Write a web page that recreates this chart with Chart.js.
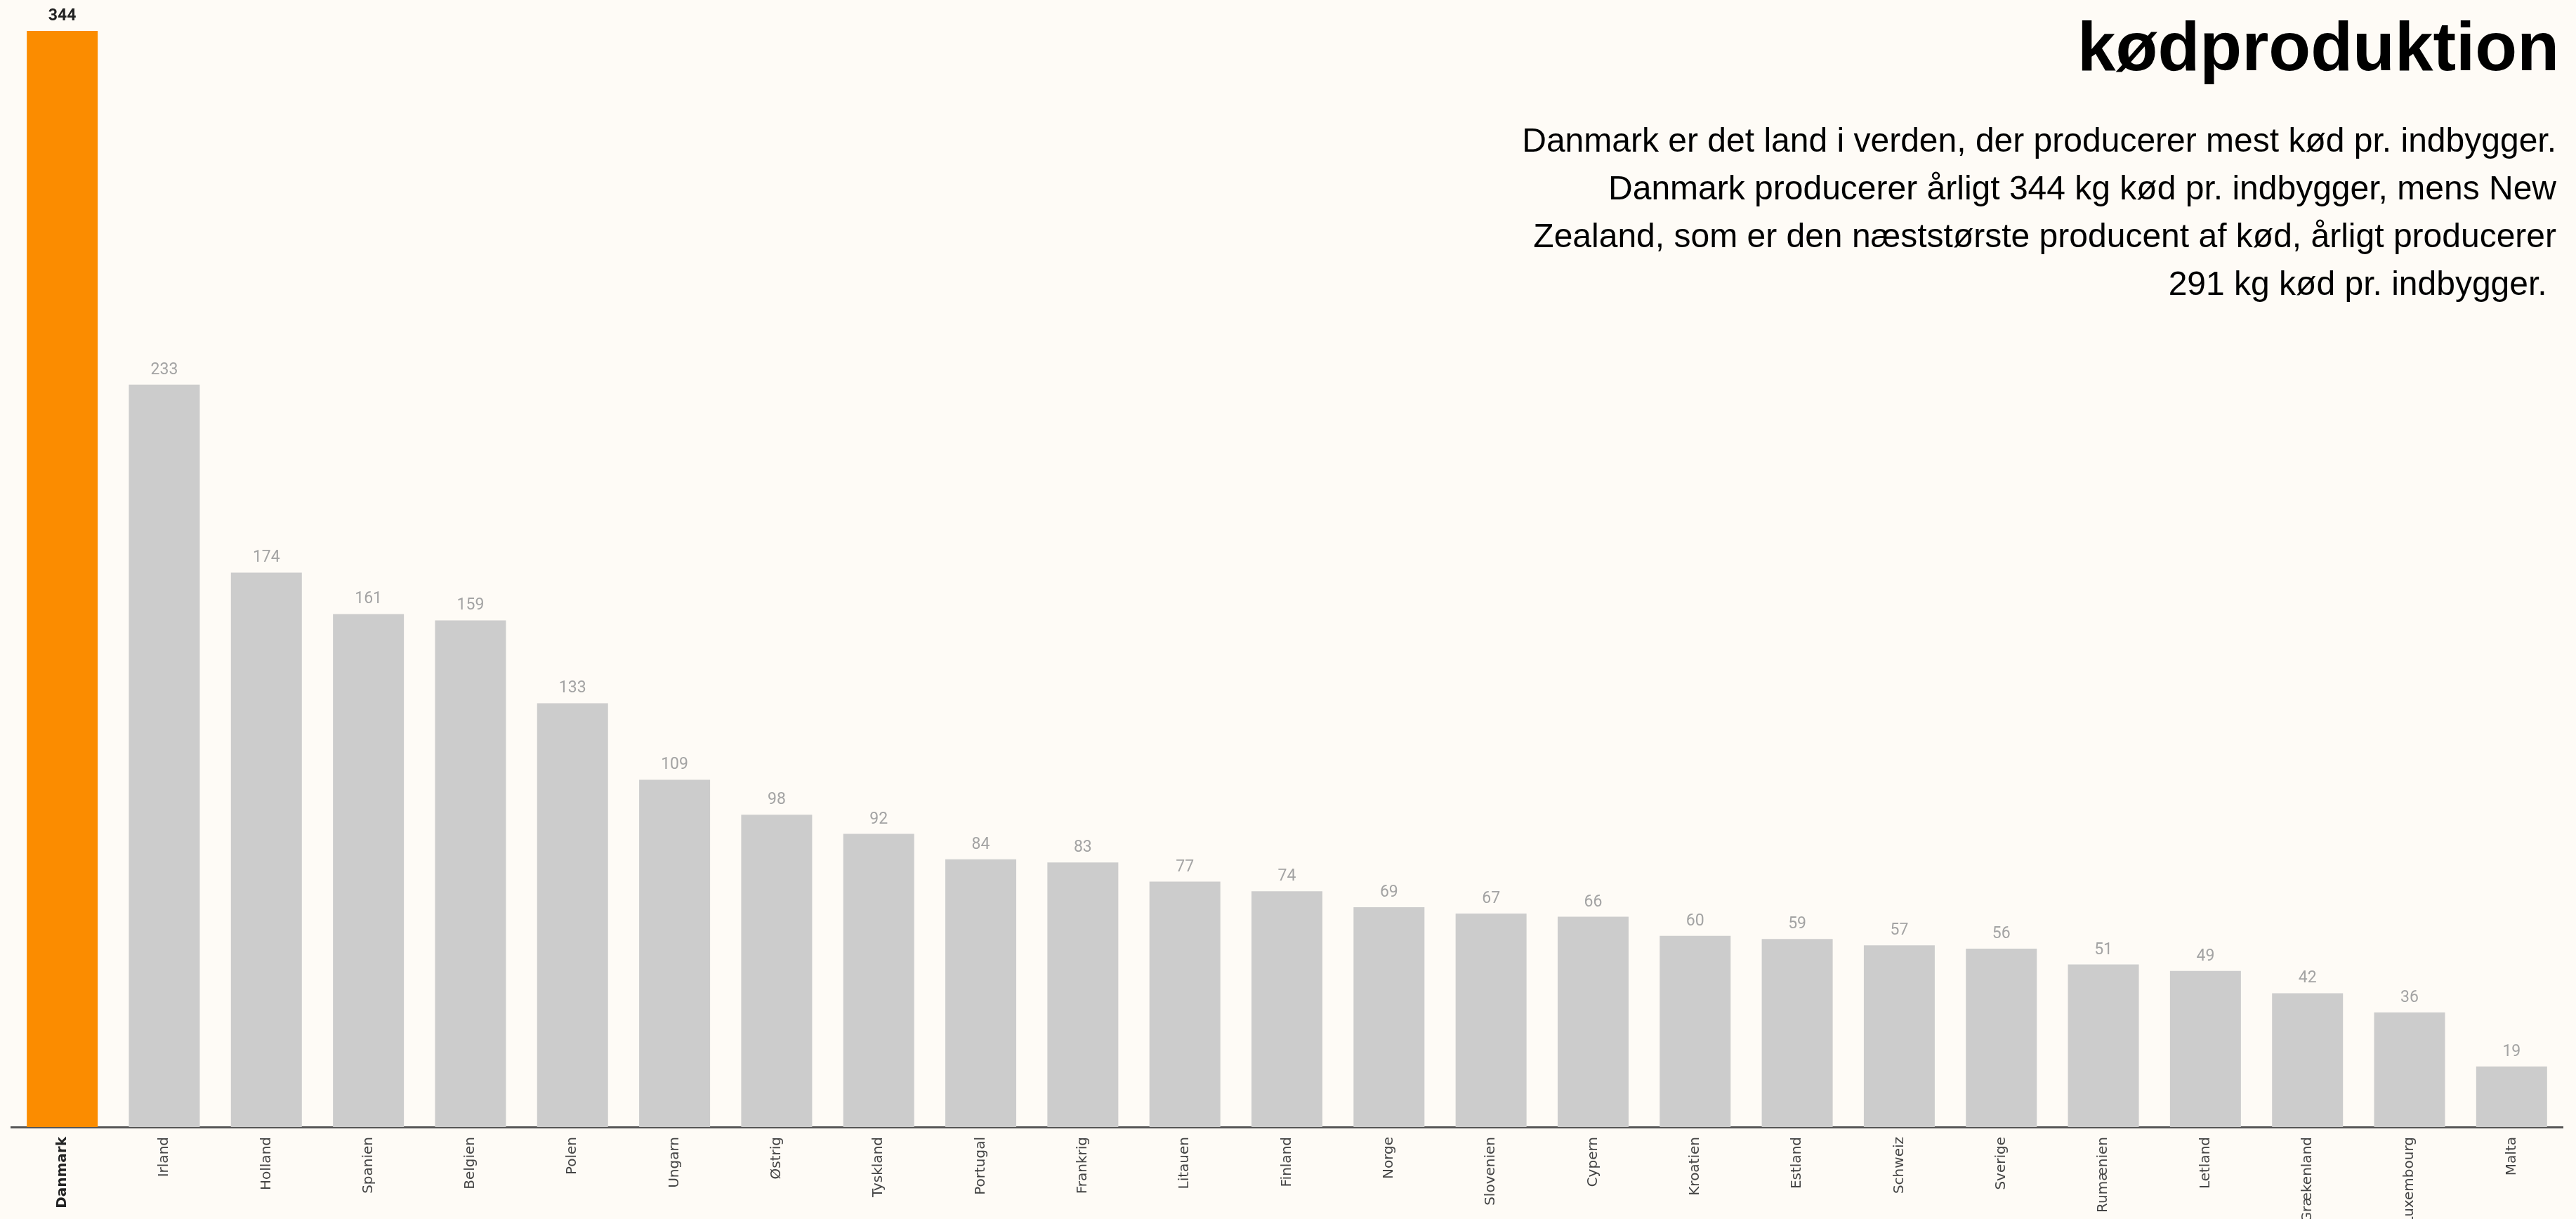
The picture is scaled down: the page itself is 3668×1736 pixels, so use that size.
<!DOCTYPE html>
<html lang="da">
<head>
<meta charset="utf-8">
<title>kødproduktion</title>
<script src="https://cdn.jsdelivr.net/npm/chart.js@4/dist/chart.umd.min.js"></script>
<style>
    html, body {
        margin: 0;
        padding: 0;
        background: #FEFBF6;
        overflow: hidden;
    }
    #wrap {
        position: relative;
        width: 3668px;
        height: 1736px;
    }
    #title {
        position: absolute;
        top: 17px;
        right: 24px;
        margin: 0;
        font-family: 'Liberation Sans', Arial, sans-serif;
        font-weight: bold;
        font-size: 98px;
        line-height: 98px;
        color: #000;
    }
    #intro {
        position: absolute;
        top: 166px;
        right: 28px;
        margin: 0;
        font-family: 'Liberation Sans', Arial, sans-serif;
        font-size: 48px;
        line-height: 68px;
        text-align: right;
        color: #000;
        white-space: pre;
    }
</style>
</head>
<body>
<div id="wrap">
    <canvas id="chart"></canvas>
    <h1 id="title">kødproduktion</h1>
    <p id="intro">Danmark er det land i verden, der producerer mest kød pr. indbygger.
Danmark producerer årligt 344 kg kød pr. indbygger, mens New
Zealand, som er den næststørste producent af kød, årligt producerer
291 kg kød pr. indbygger. </p>
</div>
<script>
// --- Data: kg kød pr. indbygger pr. år ---
const countries = [
    'Danmark', 'Irland', 'Holland', 'Spanien', 'Belgien', 'Polen', 'Ungarn', 'Østrig',
    'Tyskland', 'Portugal', 'Frankrig', 'Litauen', 'Finland', 'Norge', 'Slovenien',
    'Cypern', 'Kroatien', 'Estland', 'Schweiz', 'Sverige', 'Rumænien', 'Letland',
    'Grækenland', 'Luxembourg', 'Malta'
];
const meatPerCapita = [
    344, 233, 174, 161, 159, 133, 109, 98,
    92, 84, 83, 77, 74, 69, 67,
    66, 60, 59, 57, 56, 51, 49,
    42, 36, 19
];
const highlightCountry = 'Danmark';

const ORANGE = '#FB8C00';
const GREY = '#CCCCCC';

document.addEventListener('DOMContentLoaded', () => {

    // --- Value labels above each bar ---
    const valueLabels = {
        id: 'valueLabels',
        afterDatasetsDraw(chart) {
            const ctx = chart.ctx;
            const meta = chart.getDatasetMeta(0);
            ctx.save();
            ctx.textAlign = 'center';
            ctx.textBaseline = 'alphabetic';
            meta.data.forEach((bar, i) => {
                const isHi = countries[i] === highlightCountry;
                ctx.font = (isHi ? 'bold ' : '') + '23px Roboto';
                ctx.fillStyle = isHi ? '#222222' : '#A3A3A3';
                ctx.fillText(String(meatPerCapita[i]), bar.x, bar.y - 15);
            });
            ctx.restore();
        }
    };

    const ctx = document.getElementById('chart').getContext('2d');
    new Chart(ctx, {
        type: 'bar',
        data: {
            labels: countries,
            datasets: [{
                data: meatPerCapita,
                backgroundColor: countries.map(c => c === highlightCountry ? ORANGE : GREY),
                borderWidth: 0,
                barPercentage: 0.695,
                categoryPercentage: 1.0
            }]
        },
        options: {
            responsive: true,
            maintainAspectRatio: false,
            animation: false,
            layout: {
                padding: { top: 44, left: 16, right: 19, bottom: 0 }
            },
            plugins: {
                legend: { display: false },
                tooltip: { enabled: false }
            },
            scales: {
                x: {
                    grid: { display: false, drawTicks: false },
                    border: { display: true, color: '#555555', width: 3 },
                    afterFit: scale => { scale.height = 131; },
                    ticks: {
                        autoSkip: false,
                        minRotation: 90,
                        maxRotation: 90,
                        padding: 14,
                        color: c => c.index === 0 ? '#222222' : '#444444',
                        font: c => ({
                            family: 'DejaVu Sans',
                            size: 20,
                            weight: c.index === 0 ? 'bold' : 'normal'
                        })
                    }
                },
                y: {
                    display: false,
                    min: 0,
                    max: 344
                }
            }
        },
        plugins: [valueLabels]
    });
});
</script>
</body>
</html>
